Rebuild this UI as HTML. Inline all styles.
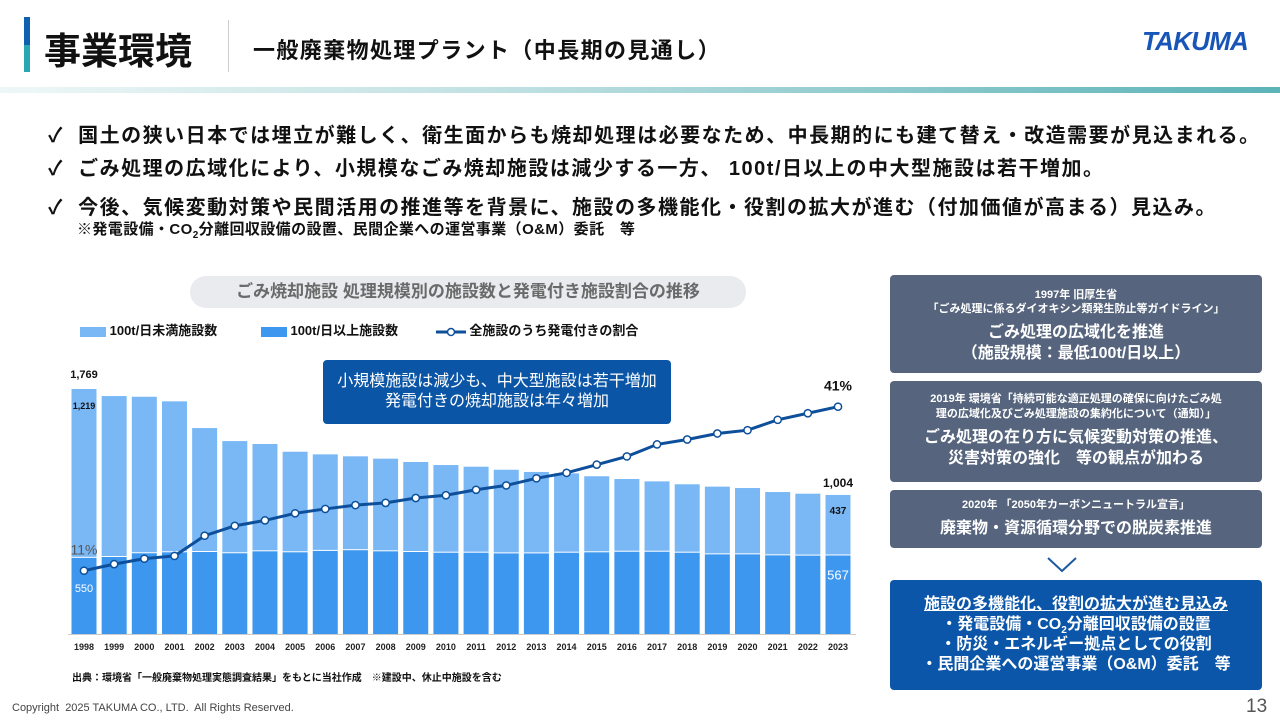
<!DOCTYPE html>
<html><head><meta charset="utf-8"><style>
*{margin:0;padding:0;box-sizing:border-box}
body{width:1280px;height:720px;background:#fff;position:relative;overflow:hidden;font-family:"Liberation Sans","Noto Sans CJK JP",sans-serif;color:#111}
.abs{position:absolute}
.b{font-weight:bold}
sub{line-height:0}
.panel{position:absolute;left:890px;width:372px;background:#56657d;color:#fff;border-radius:4px;text-align:center;font-weight:bold}
.bul{left:48px;font-size:20px;font-weight:bold;white-space:nowrap;letter-spacing:1.5px}
</style></head><body>
<div class="abs" style="left:24px;top:17px;width:6px;height:28px;background:#1060b0"></div>
<div class="abs" style="left:24px;top:45px;width:6px;height:27px;background:#2aa7b0"></div>
<div class="abs b" style="left:44px;top:21px;font-size:37px">事業環境</div>
<div class="abs" style="left:228px;top:20px;width:1px;height:52px;background:#ccc"></div>
<div class="abs b" style="left:253px;top:33px;font-size:22px;letter-spacing:1.4px">一般廃棄物処理プラント（中長期の見通し）</div>
<div class="abs" style="left:1142px;top:26px;font-size:26px;font-weight:900;font-style:italic;color:#1756b8;letter-spacing:-0.8px">TAKUMA</div>
<div class="abs" style="left:0;top:87px;width:1280px;height:6px;background:linear-gradient(90deg,#eef7f7,#bfe0e2 40%,#5bb3b8)"></div>

<div class="abs bul" style="top:119px">✓&nbsp;&nbsp;国土の狭い日本では埋立が難しく、衛生面からも焼却処理は必要なため、中長期的にも建て替え・改造需要が見込まれる。</div>
<div class="abs bul" style="top:152px">✓&nbsp;&nbsp;ごみ処理の広域化により、小規模なごみ焼却施設は減少する一方、 100t/日以上の中大型施設は若干増加。</div>
<div class="abs bul" style="top:191px">✓&nbsp;&nbsp;今後、気候変動対策や民間活用の推進等を背景に、施設の多機能化・役割の拡大が進む（付加価値が高まる）見込み。</div>
<div class="abs b" style="left:77px;top:218px;font-size:15px;letter-spacing:0.4px">※発電設備・CO<sub style="font-size:10px">2</sub>分離回収設備の設置、民間企業への運営事業（O&amp;M）委託　等</div>

<div class="abs b" style="left:190px;top:276px;width:556px;height:32px;border-radius:16px;background:#e9ebef;color:#6a6a6a;font-size:17px;text-align:center;line-height:32px">ごみ焼却施設 処理規模別の施設数と発電付き施設割合の推移</div>

<div class="abs b" style="left:80px;top:320px;font-size:13px;white-space:nowrap">
<span style="display:inline-block;width:26px;height:10px;background:#7ab8f5;vertical-align:middle"></span> 100t/日未満施設数
<span style="display:inline-block;width:40px"></span><span style="display:inline-block;width:26px;height:10px;background:#3d97ef;vertical-align:middle"></span> 100t/日以上施設数
<span style="display:inline-block;width:34px"></span><svg width="30" height="10" style="vertical-align:middle"><line x1="0" y1="5" x2="30" y2="5" stroke="#0d4f9a" stroke-width="3"/><circle cx="15" cy="5" r="3.5" fill="#fff" stroke="#0d4f9a" stroke-width="1.5"/></svg> 全施設のうち発電付きの割合
</div>

<svg class="abs" id="chart" style="left:0;top:0" width="1280" height="720"></svg>

<div class="abs" style="left:323px;top:360px;width:348px;height:64px;background:#0b55a6;border-radius:4px;color:#fff;font-size:16px;text-align:center;line-height:20px;padding-top:12px">小規模施設は減少も、中大型施設は若干増加<br>発電付きの焼却施設は年々増加</div>

<div class="abs b" style="left:72px;top:669px;font-size:10px">出典：環境省「一般廃棄物処理実態調査結果」をもとに当社作成　※建設中、休止中施設を含む</div>
<div class="abs" style="left:12px;top:702px;font-size:11px;color:#444">Copyright&nbsp; 2025 TAKUMA CO., LTD.&nbsp; All Rights Reserved.</div>
<div class="abs" style="left:1246px;top:696px;font-size:19px;color:#555">13</div>

<div class="panel" style="top:275px;height:98px;padding-top:13px">
<div style="font-size:11px;line-height:14px">1997年 旧厚生省<br>「ごみ処理に係るダイオキシン類発生防止等ガイドライン」</div>
<div style="font-size:16px;line-height:21px;margin-top:6px">ごみ処理の広域化を推進<br>（施設規模：最低100t/日以上）</div></div>
<div class="panel" style="top:381px;height:101px;padding-top:11px">
<div style="font-size:11px;line-height:15px">2019年 環境省「持続可能な適正処理の確保に向けたごみ処<br>理の広域化及びごみ処理施設の集約化について（通知）」</div>
<div style="font-size:16px;line-height:21px;margin-top:5px">ごみ処理の在り方に気候変動対策の推進、<br>災害対策の強化　等の観点が加わる</div></div>
<div class="panel" style="top:490px;height:58px;padding-top:8px">
<div style="font-size:11px;line-height:14px">2020年 「2050年カーボンニュートラル宣言」</div>
<div style="font-size:16px;line-height:20px;margin-top:7px">廃棄物・資源循環分野での脱炭素推進</div></div>
<svg class="abs" style="left:1046px;top:556px" width="32" height="18"><polyline points="2,2 16,15 30,2" fill="none" stroke="#1d5aa0" stroke-width="2"/></svg>
<div class="panel" style="top:580px;height:110px;background:#0b56a8;padding-top:15px;font-size:16px;line-height:20px">
<div style="text-decoration:underline">施設の多機能化、役割の拡大が進む見込み</div>
<div>・発電設備・CO<sub style="font-size:10px">2</sub>分離回収設備の設置</div>
<div>・防災・エネルギー拠点としての役割</div>
<div>・民間企業への運営事業（O&amp;M）委託　等</div></div>

<script>
const years=[1998,1999,2000,2001,2002,2003,2004,2005,2006,2007,2008,2009,2010,2011,2012,2013,2014,2015,2016,2017,2018,2019,2020,2021,2022,2023];
const totals=[1769,1718,1713,1680,1487,1393,1372,1316,1297,1283,1266,1242,1220,1208,1186,1170,1160,1139,1119,1102,1081,1064,1054,1025,1013,1004];
const large=[550,556,583,590,592,583,597,590,600,605,597,592,587,587,582,582,587,590,594,594,587,575,575,568,566,567];
const pct=[11.0,12.2,13.2,13.7,17.4,19.2,20.2,21.5,22.3,23.0,23.4,24.3,24.8,25.8,26.6,27.9,28.9,30.4,31.9,34.1,35.0,36.1,36.7,38.6,39.8,41.0];
const svg=document.getElementById('chart');
const NS='http://www.w3.org/2000/svg';
const base=634, k=245/1769;
const xc=i=>84+i*30.16;
const yv=v=>base-v*k;
const yp=p=>570.7-(p-11)*5.467;
function mk(t,a){const e=document.createElementNS(NS,t);for(const n in a)e.setAttribute(n,a[n]);svg.appendChild(e);return e;}
const ax=mk('line',{x1:68,y1:base+0.5,x2:856,y2:base+0.5,stroke:'#ccc','stroke-width':1});


years.forEach((y,i)=>{
  const s=mk('rect',{x:xc(i)-12.5,y:yv(totals[i]),width:25,height:(totals[i]-large[i])*k-1,fill:'#7ab8f5'});
  
  
  const l=mk('rect',{x:xc(i)-12.5,y:yv(large[i]),width:25,height:large[i]*k,fill:'#3d97ef'});
  
  
  const t=mk('text',{x:xc(i),y:650,'font-size':9,'font-weight':'bold','text-anchor':'middle',fill:'#222'});
  t.textContent=y;
  
  
});
const pl=mk('polyline',{points:pct.map((p,i)=>xc(i)+','+yp(p)).join(' '),fill:'none',stroke:'#0d4f9a','stroke-width':3});


pct.forEach((p,i)=>{
  const c=mk('circle',{cx:xc(i),cy:yp(p),r:3.6,fill:'#fff',stroke:'#0d4f9a','stroke-width':1.5});
  
  
});
const n=years.length-1;
function lab(x,y,txt,sz,fill,name,w){const t=mk('text',{x:x,y:y,'font-size':sz,'font-weight':w||'bold','text-anchor':'middle',fill:fill});t.textContent=txt;

}
lab(xc(0),yv(totals[0])-11,totals[0].toLocaleString('en-US'),11,'#111','label-total-first');
lab(xc(0),yv(totals[0])+20,(totals[0]-large[0]).toLocaleString('en-US'),9,'#111','label-small-first');
lab(xc(0),yv(large[0])+34,large[0],11,'#fff','label-large-first','normal');
lab(xc(0),yp(pct[0])-16,Math.round(pct[0])+'%',14,'#555','label-pct-first','normal');
lab(xc(n),yv(totals[n])-8,totals[n].toLocaleString('en-US'),12,'#111','label-total-last');
lab(xc(n),yv(totals[n])+19,totals[n]-large[n],10,'#111','label-small-last');
lab(xc(n),yv(large[n])+24,large[n],13,'#fff','label-large-last','normal');
lab(xc(n),yp(pct[n])-16,Math.round(pct[n])+'%',14,'#111','label-pct-last');
</script>
</body></html>
